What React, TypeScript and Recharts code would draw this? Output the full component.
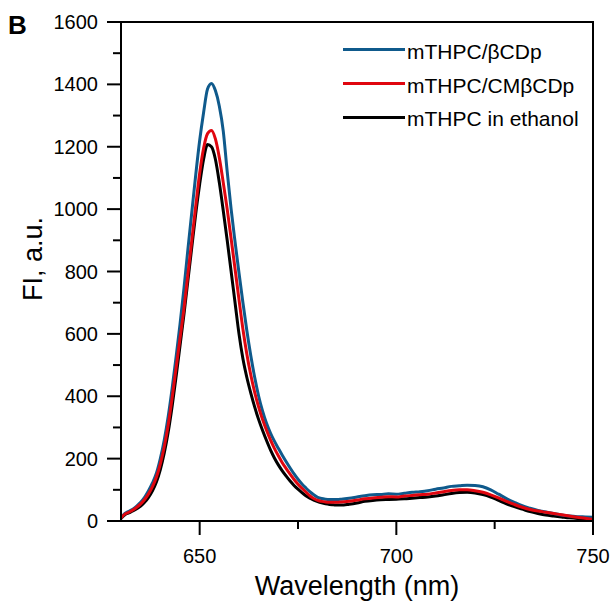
import { LineChart, Line, XAxis, YAxis } from 'recharts';

// wavelengths (nm): 1 nm steps over the peak, 2 nm steps in the tail
const wavelengths = [
  630, 631, 632, 633, 634, 635, 636, 637, 638, 639, 640, 641, 642, 643, 644, 645, 646, 647, 648, 649,
  650, 651, 652, 653, 654, 655, 656, 657, 658, 659, 660, 661, 662, 663, 664, 665, 666, 667, 668, 669,
  670, 671, 672, 673, 674, 675, 676, 677, 678, 679, 680, 681, 682, 683, 684, 685, 686,
  688, 690, 692, 694, 696, 698, 700, 702, 704, 706, 708, 710, 712, 714, 716, 718, 720, 722, 724, 726,
  728, 730, 732, 734, 736, 738, 740, 742, 744, 746, 748, 750,
];

const betaCDp = [
  10, 24, 31, 38, 48, 60, 76, 97, 122, 153, 200, 260, 335, 425, 525, 630, 745, 870, 990, 1110,
  1220, 1310, 1385, 1403, 1380, 1330, 1250, 1120, 1000, 895, 795, 700, 610, 530, 460, 400, 352, 313, 282, 256,
  233, 211, 190, 170, 151, 134, 119, 106, 94, 84, 76, 72, 70, 69, 69, 69, 70,
  73, 77, 81, 84, 85, 87, 86, 89, 92, 94, 97, 102, 106, 111, 113, 115, 114, 110, 100, 86,
  72, 60, 49, 41, 34, 29, 24, 19, 16, 14, 13, 12,
];

const cmBetaCDp = [
  10, 22, 28, 35, 44, 55, 69, 87, 110, 140, 183, 238, 308, 395, 490, 585, 680, 790, 900, 1010,
  1115, 1195, 1242, 1252, 1225, 1165, 1085, 1000, 905, 808, 710, 615, 535, 468, 412, 365, 325, 291, 260, 233,
  209, 187, 168, 150, 133, 118, 105, 93, 81, 72, 66, 63, 61, 60, 60, 60, 61,
  63, 67, 71, 74, 76, 78, 77, 80, 82, 84, 86, 90, 94, 98, 100, 100, 97, 92, 84, 74,
  63, 53, 44, 37, 32, 28, 24, 20, 16, 12, 9, 5,
];

const ethanol = [
  8, 20, 26, 32, 39, 48, 60, 76, 97, 125, 165, 218, 285, 368, 462, 562, 662, 770, 878, 985,
  1080, 1160, 1207, 1200, 1160, 1085, 995, 900, 800, 700, 600, 520, 460, 410, 365, 325, 290, 258, 228, 202,
  180, 161, 144, 128, 114, 102, 91, 81, 73, 67, 62, 58, 55, 53, 52, 51, 51,
  54, 58, 63, 66, 68, 69, 70, 71, 73, 75, 77, 80, 84, 88, 91, 92, 90, 85, 77, 66,
  55, 46, 38, 30, 24, 19, 16, 13, 10, 8, 7, 6,
];

const xTicks = [650, 675, 700, 725, 750];
const yTicks = [0, 100, 200, 300, 400, 500, 600, 700, 800, 900, 1000, 1100, 1200, 1300, 1400, 1500, 1600];

const series = [
  { key: 'beta', name: 'mTHPC/βCDp', color: '#0f5a8c' },
  { key: 'cm', name: 'mTHPC/CMβCDp', color: '#e0060f' },
  { key: 'eth', name: 'mTHPC in ethanol', color: '#000000' },
];

const data = wavelengths.map((nm, i) => ({
  nm,
  beta: betaCDp[i],
  cm: cmBetaCDp[i],
  eth: ethanol[i],
}));

const FONT = '"Liberation Sans", Arial, sans-serif';

const XTick = (props: any) => {
  const { x, y, payload } = props;
  const major = payload.value % 50 === 0;
  return (
    <g>
      <line x1={x} x2={x} y1={y} y2={y + (major ? 14 : 8)} stroke="#000" strokeWidth={2} />
      {major && (
        <text x={x} y={y + 42} textAnchor="middle" fontSize={20} fontFamily={FONT} fill="#000">
          {payload.value}
        </text>
      )}
    </g>
  );
};

const YTick = (props: any) => {
  const { x, y, payload } = props;
  const major = payload.value % 200 === 0;
  return (
    <g>
      <line x1={x - (major ? 14 : 8)} x2={x} y1={y} y2={y} stroke="#000" strokeWidth={2} />
      {major && (
        <text x={x - 23} y={y + 7} textAnchor="end" fontSize={20} fontFamily={FONT} fill="#000">
          {payload.value}
        </text>
      )}
    </g>
  );
};

export default function App() {
  const axisLine = { stroke: '#000', strokeWidth: 2 };
  return (
    <div style={{ position: 'absolute', left: 0, top: 0, width: 615, height: 602, background: '#fff' }}>
      <LineChart width={615} height={602} data={data} margin={{ top: 22, right: 22, bottom: 0, left: 0 }}>
        <XAxis
          dataKey="nm"
          type="number"
          domain={[630, 750]}
          ticks={xTicks}
          interval={0}
          height={81}
          tickSize={0}
          tickMargin={0}
          tickLine={false}
          axisLine={axisLine}
          tick={XTick}
          label={({ viewBox }: any) => (
            <g>
              {/* top and right borders of the plot box, from the axis area */}
              <path
                d={`M${viewBox.x},22 H${viewBox.x + viewBox.width} V${viewBox.y}`}
                fill="none"
                stroke="#000"
                strokeWidth={2}
              />
              <text
                x={viewBox.x + viewBox.width / 2}
                y={595}
                textAnchor="middle"
                fontSize={27}
                fontFamily={FONT}
                fill="#000"
              >
                Wavelength (nm)
              </text>
            </g>
          )}
        />
        <YAxis
          type="number"
          domain={[0, 1600]}
          ticks={yTicks}
          interval={0}
          width={121}
          tickSize={0}
          tickMargin={0}
          tickLine={false}
          axisLine={axisLine}
          tick={YTick}
          label={() => (
            <text
              x={42}
              y={259}
              transform="rotate(-90, 42, 259)"
              textAnchor="middle"
              fontSize={27}
              fontFamily={FONT}
              fill="#000"
            >
              FI, a.u.
            </text>
          )}
        />
        <Line dataKey="eth" type="monotone" stroke="#000000" strokeWidth={3} dot={false} isAnimationActive={false} />
        <Line dataKey="beta" type="monotone" stroke="#0f5a8c" strokeWidth={3} dot={false} isAnimationActive={false} />
        <Line dataKey="cm" type="monotone" stroke="#e0060f" strokeWidth={3} dot={false} isAnimationActive={false} />
      </LineChart>

      {/* frame overlay as well, in case the label layer is clipped */}
      <svg
        width={615}
        height={602}
        style={{ position: 'absolute', left: 0, top: 0, zIndex: 5, pointerEvents: 'none' }}
      >
        <polyline points="121,22 593,22 593,521" fill="none" stroke="#000" strokeWidth={2} />
      </svg>

      <div
        style={{
          position: 'absolute',
          left: 8,
          top: 12,
          zIndex: 6,
          fontFamily: FONT,
          fontWeight: 'bold',
          fontSize: 26,
          lineHeight: '26px',
        }}
      >
        B
      </div>

      <div style={{ position: 'absolute', left: 343, top: 33, zIndex: 6, fontFamily: FONT, fontSize: 21 }}>
        {series.map((s) => (
          <div key={s.key} style={{ display: 'flex', alignItems: 'center', height: 33.8 }}>
            <div style={{ width: 62, height: 3, background: s.color }} />
            <span style={{ marginLeft: 2, position: 'relative', top: 2 }}>{s.name}</span>
          </div>
        ))}
      </div>
    </div>
  );
}
